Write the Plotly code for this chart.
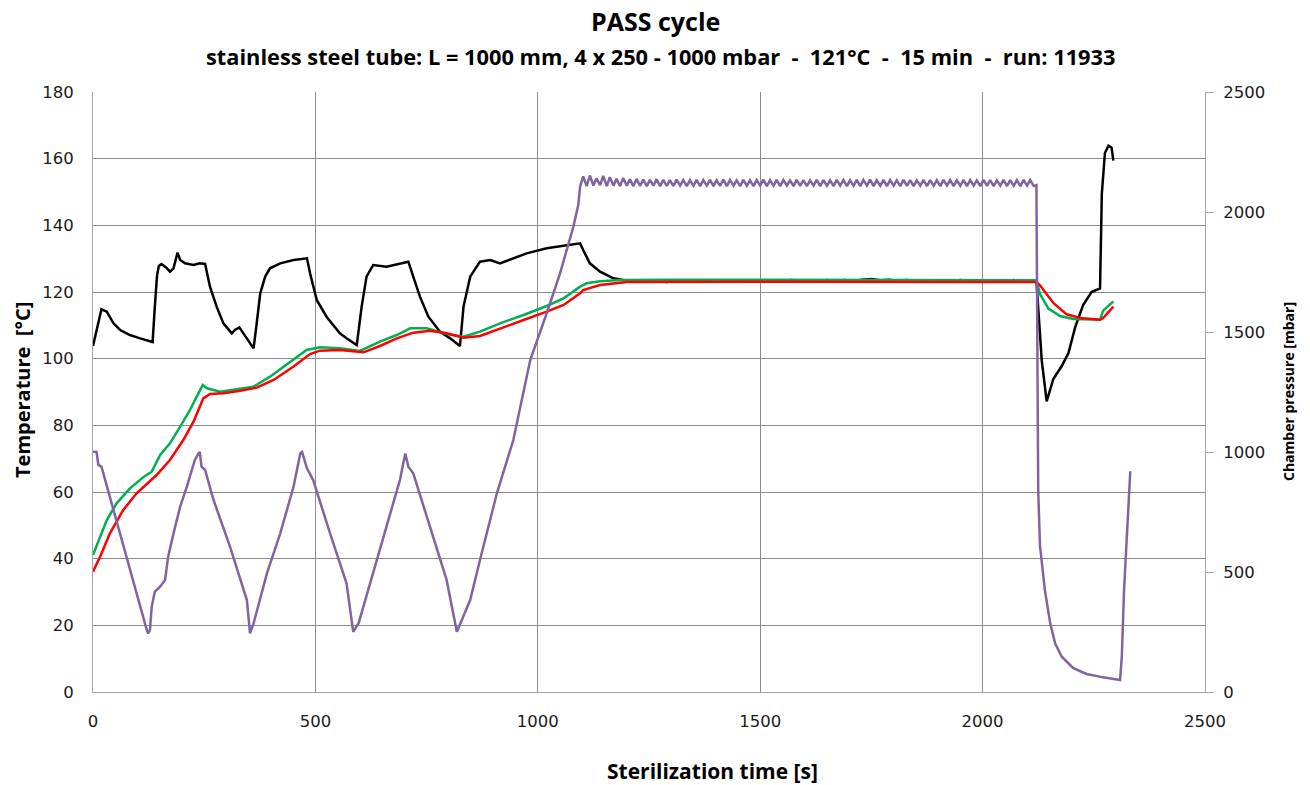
import plotly.graph_objects as go

# ---------------- data ----------------
black_t = [0, 8, 19, 31, 46, 61, 83, 106, 130, 134, 139, 144, 148, 154, 165, 173, 181, 190, 196, 207,
           226, 240, 252, 263, 278, 293, 312, 319, 329, 338, 349, 361, 368, 376, 387, 398, 421, 451, 481, 488,
           503, 525, 555, 570, 593, 604, 615, 630, 660, 690, 709, 720, 735, 754, 780, 803, 825, 833, 848, 870,
           893, 915, 945, 975, 1020, 1058, 1080, 1095, 1102, 1117, 1140, 1170, 1192,
           1210, 1230, 1250, 1270, 1290, 1310, 1330, 1350, 1370, 1390, 1410, 1430, 1450, 1470, 1490, 1510,
           1530, 1550, 1570, 1590, 1610, 1630, 1650, 1670, 1690, 1710, 1730, 1750, 1770, 1790, 1810, 1830,
           1850, 1870, 1890, 1910, 1930, 1950, 1970, 1990, 2010, 2030, 2050, 2070, 2090, 2110, 2121,
           2126, 2133, 2144, 2159, 2178, 2193, 2208, 2226, 2245, 2264, 2268, 2275, 2283, 2290, 2294]
black_T = [103.8, 108.6, 114.8, 114.1, 110.6, 108.6, 107.1, 106.1, 105.3, 105.0, 115.6, 125.0, 127.8, 128.4, 127.3, 126.1, 127.1, 131.8, 129.6, 128.6,
           128.1, 128.6, 128.4, 121.6, 115.6, 110.6, 107.6, 108.6, 109.4, 107.6, 105.1, 103.1, 110.6, 119.6, 124.6, 127.1, 128.6, 129.6, 130.1, 125.6,
           117.6, 112.6, 107.6, 106.1, 104.1, 115.6, 124.6, 128.1, 127.6, 128.6, 129.1, 124.6, 118.6, 112.6, 108.1, 106.1, 103.8, 115.6, 124.6, 129.1,
           129.6, 128.6, 130.1, 131.6, 133.1, 133.8, 134.2, 134.6, 132.6, 128.6, 126.1, 124.1, 123.6,
           123.4, 123.1, 123.5, 123.2, 123.0, 123.4, 123.2, 123.5, 123.1, 123.4, 123.2, 123.5, 123.3, 123.1, 123.4, 123.2,
           123.5, 123.3, 123.6, 123.3, 123.5, 123.2, 123.6, 123.4, 123.6, 123.3, 123.7, 123.9, 123.5, 123.7, 123.4, 123.6,
           123.3, 123.5, 123.2, 123.5, 123.3, 123.6, 123.3, 123.5, 123.2, 123.5, 123.3, 123.6, 123.3, 123.5, 123.3,
           112.0, 99.4, 87.2, 93.9, 97.8, 101.7, 109.4, 116.1, 120.0, 121.1, 149.4, 161.7, 163.9, 163.3, 159.4]

green_t = [0, 16, 31, 53, 83, 113, 132, 151, 173, 196, 218, 237, 247, 256, 286, 323, 361, 398, 443, 480,
           510, 555, 600, 645, 683, 713, 750, 795, 833, 870, 915, 968, 1020, 1058, 1095, 1110, 1140, 1185,
           1300, 1500, 1700, 1900, 2121, 2129, 2148, 2174, 2204, 2264, 2271, 2294]
green_T = [41.1, 46.6, 51.6, 56.6, 61.1, 64.4, 66.1, 71.1, 74.6, 79.6, 84.6, 89.6, 92.1, 91.1, 90.1, 90.8, 91.6, 94.6, 99.1, 102.6,
           103.4, 103.1, 102.3, 105.1, 107.1, 109.1, 109.1, 107.4, 106.6, 108.1, 110.6, 113.1, 115.8, 118.1, 121.6, 122.6, 123.2, 123.6,
           123.7, 123.7, 123.6, 123.6, 123.5, 119.4, 115.0, 112.8, 111.9, 111.7, 114.4, 117.2]

red_t = [0, 16, 38, 68, 98, 143, 173, 203, 226, 248, 263, 293, 331, 368, 406, 450, 488, 510, 555, 608,
         645, 683, 720, 758, 795, 833, 870, 915, 968, 1020, 1058, 1095, 1102, 1140, 1200,
         1500, 1800, 2121, 2129, 2137, 2159, 2189, 2219, 2264, 2271, 2294]
red_T = [36.1, 40.6, 47.6, 54.6, 59.6, 65.1, 69.6, 75.6, 81.1, 88.1, 89.4, 89.6, 90.4, 91.3, 93.6, 97.6, 101.4, 102.4, 102.6, 101.9,
         103.8, 106.1, 107.8, 108.4, 107.6, 106.3, 106.8, 109.1, 111.6, 114.1, 116.1, 119.6, 120.6, 122.1, 123.0,
         123.1, 123.0, 123.0, 122.0, 120.6, 116.7, 113.3, 112.2, 111.7, 112.2, 115.6]

press_t = [0, 8, 12, 19, 121, 124, 128, 132, 139, 151, 162, 169, 181, 196, 211, 229, 237, 240, 244, 252,
           271, 308, 346, 353, 361, 391, 421, 451, 466, 470, 481, 495, 533, 570, 585, 597, 623, 660, 690, 702,
           709, 720, 758, 795, 818, 829, 848, 870, 908, 945, 983, 1020, 1050, 1080, 1091,
           1095, 1102, 1110, 1117, 1125, 1132, 1140, 1147, 1155, 1162, 1170, 1177, 1185, 1192, 1200, 1207,
           1215, 1222, 1230, 1237, 1245, 1252, 1260, 1267, 1275, 1282, 1290, 1297, 1305, 1312, 1320, 1327,
           1335, 1342, 1350, 1357, 1365, 1372, 1380, 1387, 1395, 1402, 1410, 1417, 1425, 1432, 1440, 1447,
           1455, 1462, 1470, 1477, 1485, 1492, 1500, 1507, 1515, 1522, 1530, 1537, 1545, 1552, 1560, 1567,
           1575, 1582, 1590, 1597, 1605, 1612, 1620, 1627, 1635, 1642, 1650, 1657, 1665, 1672, 1680, 1687,
           1695, 1702, 1710, 1717, 1725, 1732, 1740, 1747, 1755, 1762, 1770, 1777, 1785, 1792, 1800, 1807,
           1815, 1822, 1830, 1837, 1845, 1852, 1860, 1867, 1875, 1882, 1890, 1897, 1905, 1912, 1920, 1927,
           1935, 1942, 1950, 1957, 1965, 1972, 1980, 1987, 1995, 2002, 2010, 2017, 2025, 2032, 2040, 2047,
           2055, 2062, 2070, 2077, 2085, 2092, 2100, 2107, 2115,
           2121, 2125, 2129, 2140, 2152, 2163, 2178, 2204, 2234, 2271, 2309, 2313, 2318, 2332]
press_p = [1001, 1000, 946, 939, 258, 244, 258, 356, 418, 439, 467, 564, 661, 772, 856, 967, 994, 1000, 939, 925,
           800, 606, 383, 244, 286, 494, 661, 856, 994, 1000, 932, 883, 661, 453, 251, 286, 453, 689, 883, 994,
           939, 911, 689, 467, 251, 300, 383, 550, 828, 1050, 1383, 1578, 1744, 1939, 2029,
           2105, 2148, 2108, 2152, 2110, 2140, 2112, 2150, 2108, 2145, 2110, 2138, 2108, 2142, 2110, 2136,
           2108, 2138, 2109, 2135, 2108, 2134, 2110, 2136, 2108, 2134, 2109, 2133, 2108, 2135, 2110, 2133,
           2108, 2132, 2109, 2134, 2108, 2133, 2110, 2134, 2108, 2132, 2109, 2135, 2108, 2133, 2110, 2132,
           2108, 2134, 2109, 2132, 2108, 2133, 2110, 2135, 2108, 2132, 2109, 2134, 2108, 2133, 2110, 2132,
           2108, 2134, 2109, 2133, 2108, 2132, 2110, 2134, 2108, 2133, 2109, 2132, 2108, 2134, 2110, 2133,
           2108, 2132, 2109, 2134, 2108, 2133, 2110, 2135, 2108, 2132, 2109, 2134, 2108, 2133, 2110, 2132,
           2108, 2134, 2109, 2133, 2108, 2132, 2110, 2134, 2108, 2133, 2109, 2132, 2108, 2134, 2110, 2133,
           2108, 2132, 2109, 2134, 2108, 2133, 2110, 2132, 2108, 2134, 2109, 2133, 2108, 2132, 2110, 2134,
           2108, 2133, 2109, 2132, 2108, 2134, 2110, 2133, 2108,
           2112, 842, 610, 425, 286, 203, 147, 99, 75, 61, 50, 147, 425, 920]

x_ticks = [0, 500, 1000, 1500, 2000, 2500]
y_ticks = [0, 20, 40, 60, 80, 100, 120, 140, 160, 180]
y2_ticks = [0, 500, 1000, 1500, 2000, 2500]

title_text = "PASS cycle"
subtitle_text = "stainless steel tube: L = 1000 mm, 4 x 250 - 1000 mbar  -  121°C  -  15 min  -  run: 11933"
xtitle_text = "Sterilization time [s]"
ytitle_text = "Temperature  [°C]"
y2title_text = "Chamber pressure [mbar]"

# ---------------- figure ----------------
FONT = "Open Sans"
TICKFONT = "DejaVu Sans"
GRID = "#8c8c8c"
AXIS = "#a6a6a6"
W, H = 1310, 785
L, R, T, B = 93, 105, 92, 93

fig = go.Figure()
fig.add_trace(go.Scatter(x=black_t, y=black_T, mode="lines", line=dict(color="#000000", width=2.5),
                         name="chamber", showlegend=False))
fig.add_trace(go.Scatter(x=green_t, y=green_T, mode="lines", line=dict(color="#00B050", width=2.5),
                         name="probe 1", showlegend=False))
fig.add_trace(go.Scatter(x=red_t, y=red_T, mode="lines", line=dict(color="#FF0000", width=2.5),
                         name="probe 2", showlegend=False))
fig.add_trace(go.Scatter(x=press_t, y=press_p, mode="lines", line=dict(color="#8064A2", width=2.5),
                         name="pressure", yaxis="y2", showlegend=False))

fig.update_layout(
    width=W, height=H,
    margin=dict(l=L, r=R, t=T, b=B, autoexpand=False),
    paper_bgcolor="white", plot_bgcolor="white",
    font=dict(family=FONT, size=16, color="#000000"),
    xaxis=dict(range=[0, 2500], tickvals=x_ticks, showgrid=True, gridcolor=GRID, gridwidth=1,
               zeroline=False, showline=True, linecolor=AXIS, linewidth=1, automargin=False,
               ticks="", ticklabelstandoff=14, tickfont=dict(family=TICKFONT, size=16.5, color="#1a1a1a")),
    yaxis=dict(range=[0, 180], tickvals=y_ticks, showgrid=True, gridcolor=GRID, gridwidth=1,
               zeroline=False, showline=True, linecolor=AXIS, linewidth=1, automargin=False,
               ticks="", ticklabelstandoff=15, tickfont=dict(family=TICKFONT, size=16.5, color="#1a1a1a")),
    yaxis2=dict(range=[0, 2500], tickvals=y2_ticks, overlaying="y", side="right", showgrid=False,
                zeroline=False, showline=True, linecolor=AXIS, linewidth=1, automargin=False,
                ticks="outside", ticklen=8, tickcolor=AXIS, ticklabelstandoff=6,
                tickfont=dict(family=TICKFONT, size=16.5, color="#1a1a1a")),
)

plot_w = W - L - R
plot_h = H - T - B


def px_x(xp):
    return (xp - L) / plot_w


def px_y(yp):
    return (H - B - yp) / plot_h


annotations = [
    dict(text="<b>" + title_text + "</b>", x=px_x(655), y=px_y(21), size=25, angle=0),
    dict(text="<b>" + subtitle_text + "</b>", x=px_x(661), y=px_y(57), size=21.8, angle=0),
    dict(text="<b>" + xtitle_text + "</b>", x=px_x(712), y=px_y(771), size=21, angle=0),
    dict(text="<b>" + ytitle_text + "</b>", x=px_x(22), y=px_y(390), size=20, angle=-90),
    dict(text="<b>" + y2title_text + "</b>", x=px_x(1288), y=px_y(392), size=14, angle=-90),
]
fig.update_layout(annotations=[
    dict(text=a["text"], x=a["x"], y=a["y"], xref="paper", yref="paper", showarrow=False,
         xanchor="center", yanchor="middle", textangle=a["angle"],
         font=dict(family=FONT, size=a["size"], color="#000000"))
    for a in annotations
])

fig.write_html("out.html",
               config={"displayModeBar": False},
               post_script="document.body.style.margin='0px';document.body.style.padding='0px';"
                           "document.body.style.overflow='hidden';")
